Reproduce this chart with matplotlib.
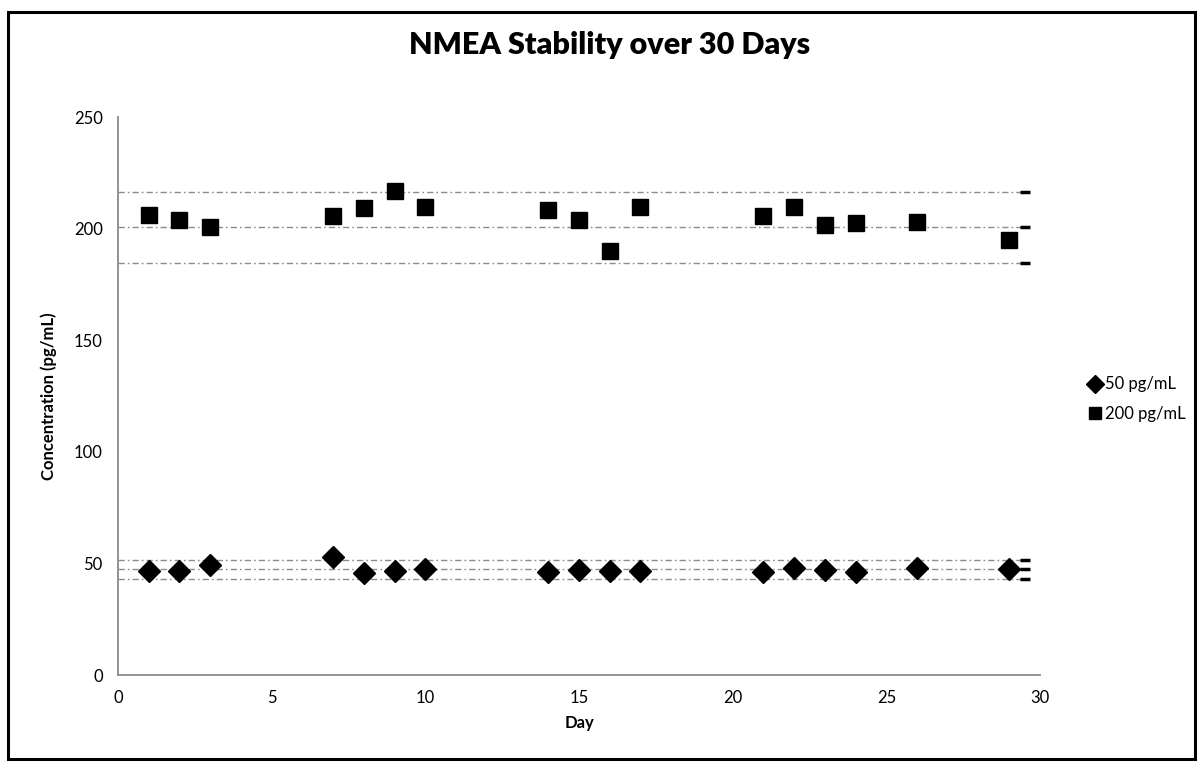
import matplotlib
matplotlib.use("Agg")
import matplotlib.pyplot as plt
from matplotlib.patches import Rectangle

plt.rcParams['font.family'] = ['Lato', 'DejaVu Sans']

days = [1, 2, 3, 7, 8, 9, 10, 14, 15, 16, 17, 21, 22, 23, 24, 26, 29]
conc_50 = [46.6, 46.6, 49.3, 52.7, 45.6, 46.6, 47.3, 46.1, 47.0, 46.4, 46.7,
           46.0, 47.8, 47.0, 46.3, 47.9, 47.5]
conc_200 = [206.1, 203.9, 200.7, 205.6, 209.2, 216.8, 209.8, 208.3, 203.9, 190.0,
            209.8, 205.5, 209.5, 201.5, 202.5, 203.0, 194.9]
ref_lines_50 = [51.7, 47.3, 42.9]
ref_lines_200 = [216.3, 200.7, 184.8]
ref_x = [0, 29.5]

fig = plt.figure(figsize=(12.03, 7.68), dpi=100)
ax = fig.add_axes([118/1203, 1-675/768, (1040-118)/1203, (675-117)/768])

for y in ref_lines_50 + ref_lines_200:
    ax.plot(ref_x, [y, y], color='#8c8c8c', lw=1.0,
            linestyle=(0, (4.5, 2.2, 1.2, 2.2)), zorder=1)
    ax.plot([ref_x[1]], [y], marker='_', ms=7, mew=2.5, color='black', zorder=2)

ax.plot(days, conc_50, linestyle='none', marker='D', ms=11, color='black',
        label='50 pg/mL', zorder=3)
ax.plot(days, conc_200, linestyle='none', marker='s', ms=11, color='black',
        label='200 pg/mL', zorder=3)

ax.set_xlim(0, 30)
ax.set_ylim(0, 250)
ax.set_xticks(range(0, 31, 5))
ax.set_yticks(range(0, 251, 50))
ax.tick_params(length=0, labelsize=12, pad=11)
for s in ['top', 'right']:
    ax.spines[s].set_visible(False)
for s in ['left', 'bottom']:
    ax.spines[s].set_color('#8a8a8a')
    ax.spines[s].set_linewidth(1.3)

ax.set_xlabel('Day', fontsize=12, fontweight='bold', labelpad=6)
ax.set_ylabel('Concentration (pg/mL)', fontsize=12, fontweight='bold', labelpad=12)

fig.text(610/1203, 1-45/768, 'NMEA Stability over 30 Days', fontsize=22,
         fontweight='heavy', ha='center', va='center')

fig.legend(loc='center left', bbox_to_anchor=(1082/1203, 1-399/768), frameon=False,
           fontsize=12, handlelength=0.6, handletextpad=0.3, labelspacing=0.8,
           borderpad=0, markerscale=0.8)

fig.patches.append(Rectangle((8/1203, 1-759/768), (1195-8)/1203, (759-12)/768,
                             transform=fig.transFigure, fill=False,
                             edgecolor='black', linewidth=2.2))

fig.savefig('out.png', dpi=100)
